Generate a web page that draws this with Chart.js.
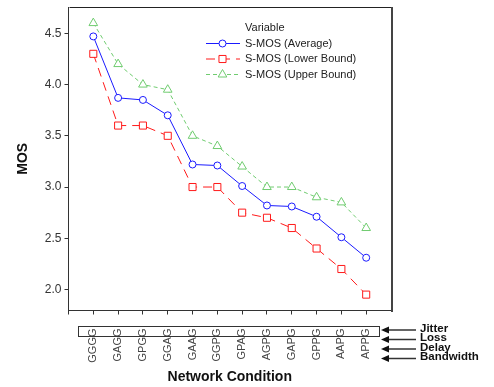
<!DOCTYPE html>
<html>
<head>
<meta charset="utf-8">
<script src="https://cdn.jsdelivr.net/npm/chart.js@4/dist/chart.umd.min.js"></script>
<style>
  html, body { margin: 0; padding: 0; background: #fff; }
  #wrap { width: 494px; height: 387px; }
</style>
</head>
<body>
<div id="wrap"><canvas id="mosChart" width="494" height="387"></canvas></div>
<script>
/* MOS per network condition */

const categories = ["GGGG", "GAGG", "GPGG", "GGAG", "GAAG", "GGPG", "GPAG", "AGPG", "GAPG", "GPPG", "AAPG", "APPG"];
const avgMos   = [4.47, 3.87, 3.85, 3.70, 3.22, 3.21, 3.01, 2.82, 2.81, 2.71, 2.51, 2.31];
const lowerMos = [4.30, 3.60, 3.60, 3.50, 3.00, 3.00, 2.75, 2.70, 2.60, 2.40, 2.20, 1.95];
const upperMos = [4.60, 4.20, 4.00, 3.95, 3.50, 3.40, 3.20, 3.00, 3.00, 2.90, 2.85, 2.60];
const seriesNames = ["S-MOS (Average)", "S-MOS (Lower Bound)", "S-MOS (Upper Bound)"];
const legendTitle = "Variable";
const conditionRows = ["Jitter", "Loss", "Delay", "Bandwidth"];

const FONT = "'Liberation Sans', Arial, sans-serif";

const toPoints = arr => arr.map((v, i) => ({ x: i, y: v }));

function drawMarker(ctx, style, x, y, r) {
  ctx.beginPath();
  if (style === "circle") {
    ctx.arc(x, y, r, 0, Math.PI * 2);
  } else if (style === "rect") {
    const s = Math.SQRT1_2 * r;
    ctx.rect(x - s, y - s, 2 * s, 2 * s);
  } else {
    ctx.moveTo(x, y - r);
    ctx.lineTo(x + r * 0.866, y + r * 0.5);
    ctx.lineTo(x - r * 0.866, y + r * 0.5);
    ctx.closePath();
  }
  ctx.fillStyle = "#fff";
  ctx.fill();
  ctx.stroke();
}

/* frame, legend, condition box and arrows */
const decorations = {
  id: "decorations",
  afterDraw(chart) {
    const ctx = chart.ctx;
    const a = chart.chartArea;
    ctx.save();

    // top + right frame
    ctx.strokeStyle = "#222";
    ctx.lineWidth = 1;
    ctx.beginPath();
    ctx.moveTo(Math.round(a.left) + 0.5, Math.round(a.top) + 0.5);
    ctx.lineTo(Math.round(a.right) + 0.5, Math.round(a.top) + 0.5);
    ctx.stroke();
    ctx.strokeStyle = "#444";
    ctx.lineWidth = 2;
    ctx.beginPath();
    ctx.moveTo(Math.round(a.right) + 1, Math.round(a.top));
    ctx.lineTo(Math.round(a.right) + 1, Math.round(a.bottom) + 1);
    ctx.stroke();

    // legend
    ctx.fillStyle = "#222";
    ctx.font = "11px " + FONT;
    ctx.textBaseline = "middle";
    ctx.textAlign = "left";
    ctx.fillText(legendTitle, 245, 28);
    const rowsY = [43.5, 59, 74.5];
    chart.data.datasets.forEach((ds, i) => {
      const y = rowsY[i];
      ctx.strokeStyle = ds.borderColor;
      ctx.lineWidth = 1;
      ctx.setLineDash(ds.borderDash || []);
      ctx.beginPath();
      ctx.moveTo(206, y);
      ctx.lineTo(240, y);
      ctx.stroke();
      ctx.setLineDash([]);
      drawMarker(ctx, ds.pointStyle, 222.5, y, ds.pointRadius);
      ctx.fillStyle = "#222";
      ctx.fillText(ds.label, 245, y);
    });

    // box under the axis
    ctx.strokeStyle = "#333";
    ctx.lineWidth = 1;
    ctx.strokeRect(78.5, 326.5, 301, 10);

    // condition arrows
    const arrowY = [330, 339.5, 349, 358.5];
    ctx.fillStyle = "#111";
    ctx.strokeStyle = "#333";
    ctx.font = "bold 11.5px " + FONT;
    conditionRows.forEach((txt, i) => {
      const y = arrowY[i];
      ctx.lineWidth = 1.5;
      ctx.beginPath();
      ctx.moveTo(387, y);
      ctx.lineTo(416, y);
      ctx.stroke();
      ctx.beginPath();
      ctx.moveTo(381, y);
      ctx.lineTo(389, y - 3.5);
      ctx.lineTo(389, y + 3.5);
      ctx.closePath();
      ctx.fill();
      ctx.fillText(txt, 420, y - 1.5);
    });

    ctx.restore();
  }
};

new Chart(document.getElementById("mosChart"), {
  type: "line",
  data: {
    datasets: [
      {
        label: seriesNames[0],
        data: toPoints(avgMos),
        borderColor: "#1a1aff",
        borderWidth: 1,
        pointStyle: "circle",
        pointRadius: 3.5,
        pointBorderColor: "#1a1aff",
        pointBackgroundColor: "#fff",
        pointBorderWidth: 1,
        tension: 0
      },
      {
        label: seriesNames[1],
        data: toPoints(lowerMos),
        borderColor: "#ff1a1a",
        borderWidth: 1,
        borderDash: [9, 6],
        pointStyle: "rect",
        pointRadius: 5,
        pointBorderColor: "#ff1a1a",
        pointBackgroundColor: "#fff",
        pointBorderWidth: 1,
        tension: 0
      },
      {
        label: seriesNames[2],
        data: toPoints(upperMos),
        borderColor: "#70cc70",
        borderWidth: 1,
        borderDash: [4, 3],
        pointStyle: "triangle",
        pointRadius: 5,
        pointBorderColor: "#70cc70",
        pointBackgroundColor: "#fff",
        pointBorderWidth: 1,
        tension: 0
      }
    ]
  },
  options: {
    responsive: false,
    animation: false,
    layout: { padding: { top: 7, right: 103, left: 0, bottom: 0 } },
    plugins: {
      legend: { display: false },
      tooltip: { enabled: false }
    },
    scales: {
      x: {
        type: "linear",
        min: -1,
        max: 12,
        afterFit: s => {
          s.height = 76.5;
          s.paddingLeft = 0;
          s.paddingRight = 0;
        },
        grid: {
          drawOnChartArea: false,
          drawTicks: true,
          tickLength: 4,
          color: ctx => (ctx.tick && ctx.tick.value === 12 ? "rgba(0,0,0,0)" : "#333")
        },
        border: { display: true, color: "#333", width: 1 },
        afterBuildTicks: s => {
          s.ticks = [];
          for (let v = -1; v <= 12; v++) s.ticks.push({ value: v });
        },
        ticks: {
          autoSkip: false,
          maxRotation: 90,
          minRotation: 90,
          padding: 14,
          color: "#444",
          font: { family: FONT, size: 11 },
          callback: v => categories[v] || ""
        },
        title: {
          display: true,
          text: "Network Condition",
          color: "#111",
          font: { family: FONT, size: 14, weight: "bold" },
          padding: { top: 0, bottom: 1.6 }
        }
      },
      y: {
        min: 1.795,
        max: 4.757,
        afterFit: s => {
          s.width = 68.5;
          s.paddingTop = 0;
          s.paddingBottom = 0;
        },
        grid: {
          drawOnChartArea: false,
          drawTicks: true,
          tickLength: 4,
          color: "#333"
        },
        border: { display: true, color: "#333", width: 1 },
        ticks: {
          stepSize: 0.5,
          includeBounds: false,
          padding: 3,
          color: "#333",
          font: { family: FONT, size: 12 },
          callback: v => v.toFixed(1)
        },
        title: {
          display: true,
          text: "MOS",
          color: "#111",
          font: { family: FONT, size: 14, weight: "bold" },
          padding: { top: 14.6, bottom: 0 }
        }
      }
    }
  },
  plugins: [decorations]
});
</script>
</body>
</html>
